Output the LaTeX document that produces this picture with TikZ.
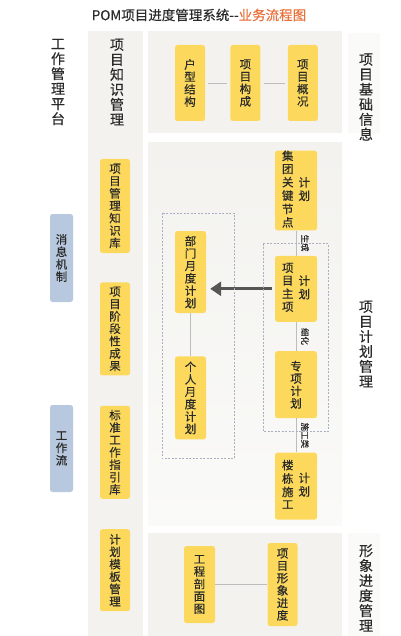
\documentclass[tikz,border=0pt]{standalone}
\usepackage{fontspec}
\setmainfont{Noto Sans CJK SC}[FakeBold=0.35]
\usepackage{tikz}
\usetikzlibrary{positioning,arrows.meta}

\definecolor{panelbg}{HTML}{F3F2EF}
\definecolor{panellight}{HTML}{FAFAF8}
\definecolor{boxyellow}{HTML}{FCD95C}
\definecolor{boxblue}{HTML}{B8C9DF}
\definecolor{textdark}{HTML}{2A2A2A}
\definecolor{titleorange}{HTML}{E8703A}
\definecolor{linegray}{HTML}{BDBDBD}
\definecolor{dashgray}{HTML}{A9B1C0}
\definecolor{arrowgray}{HTML}{565656}

\newcommand{\vcol}[1]{\begin{tabular}[c]{@{}c@{}}#1\end{tabular}}

\tikzset{
  panel/.style={fill=panelbg, draw=none},
  ybox/.style={rectangle, rounded corners=2.5pt, fill=boxyellow, inner sep=0pt, minimum width=30pt, align=center, text=textdark, font=\fontsize{11.5}{12.4}\selectfont},
  bbox/.style={rectangle, rounded corners=2.5pt, fill=boxblue, inner sep=0pt, minimum width=23pt, align=center, text=textdark, font=\fontsize{11.5}{12.4}\selectfont},
  colhead/.style={align=center, text=textdark, inner sep=0pt, font=\fontsize{14}{15}\selectfont},
  link/.style={draw=linegray, line width=0.8pt},
  tag/.style={rotate=-90, inner sep=0pt, text=textdark, font=\fontsize{8.5}{9}\selectfont},
  group/.style={draw=dashgray, dash pattern=on 2pt off 1.5pt, line width=0.6pt}
}

\begin{document}
\begin{tikzpicture}[x=1pt, y=-1pt]
    \useasboundingbox (0,0) rectangle (400,636);

    % Panels
    \fill[panel] (88,31) rectangle (143,636);
    \fill[panel] (148,31) rectangle (342,133);
    \shade[top color=panelbg, bottom color=panellight] (148,143) rectangle (342,525);
    \fill[panel] (148,533) rectangle (342,636);
    \fill[panellight] (348,33) rectangle (380,133);
    \fill[panellight] (348,533) rectangle (380,636);

    % Title
    \node[text=textdark, font=\fontsize{13.5}{15}\selectfont] (title) at (199,15) {POM项目进度管理系统{-}{-}\textcolor{titleorange}{业务流程图}};

    % Headers
    \node[colhead] (platform) at (58,82) {工\\作\\管\\理\\平\\台};
    \node[colhead] (knowhead) at (117,82) {项\\目\\知\\识\\管\\理};
    \node[colhead] (basehead) at (366,97) {项\\目\\基\\础\\信\\息};
    \node[colhead] (planhead) at (366,344) {项\\目\\计\\划\\管\\理};
    \node[colhead] (imagehead) at (366,588) {形\\象\\进\\度\\管\\理};

    % Work platform
    \node[bbox, minimum height=88pt] (msg) at (61.5,258) {消\\息\\机\\制};
    \node[bbox, minimum height=87pt] (flow) at (61.5,448.5) {工\\作\\流};

    % Knowledge
    \node[ybox, minimum height=94pt] (kb) at (115,206) {项\\目\\管\\理\\知\\识\\库};
    \node[ybox, minimum height=93pt, below=29pt of kb] (stage) {项\\目\\阶\\段\\性\\成\\果};
    \node[ybox, minimum height=93pt, below=30pt of stage] (guide) {标\\准\\工\\作\\指\\引\\库};
    \node[ybox, minimum height=82pt, below=30pt of guide] (tmpl) {计\\划\\模\\板\\管\\理};

    % Basic info
    \node[ybox, minimum height=76pt] (huxing) at (190,83) {户\\型\\结\\构};
    \node[ybox, minimum height=76pt, right=25pt of huxing] (goucheng) {项\\目\\构\\成};
    \node[ybox, minimum height=76pt, right=27pt of goucheng] (gaikuang) {项\\目\\概\\况};
    \draw[link, shorten <=3pt, shorten >=3pt] (huxing) -- (goucheng);
    \draw[link, shorten <=3pt, shorten >=3pt] (goucheng) -- (gaikuang);

    % Plan chain
    \node[ybox, minimum width=42pt, minimum height=77pt] (jituan) at (296,190.5) {\vcol{集\\团\\关\\键\\节\\点}\hspace{5pt}\vcol{计\\划}};
    \node[ybox, minimum width=42pt, minimum height=66pt, below=25pt of jituan] (zhuxiang) {\vcol{项\\目\\主\\项}\hspace{5pt}\vcol{计\\划}};
    \node[ybox, minimum width=42pt, minimum height=67pt, below=29pt of zhuxiang] (zhuanxiang) {专\\项\\计\\划};
    \node[ybox, minimum width=42pt, minimum height=67pt, below=34pt of zhuanxiang] (loudong) {\vcol{楼\\栋\\施\\工}\hspace{5pt}\vcol{计\\划}};
    \draw[link] (jituan) -- node[xshift=9pt, tag] {生成} (zhuxiang);
    \draw[link] (zhuxiang) -- node[xshift=9pt, tag] {细化} (zhuanxiang);
    \draw[link] (zhuanxiang) -- node[xshift=9pt, tag] {施工类} (loudong);

    % Monthly plans
    \node[ybox, minimum width=31pt, minimum height=82pt] (bumen) at (190.5,272) {部\\门\\月\\度\\计\\划};
    \node[ybox, minimum width=31pt, minimum height=83pt, below=43pt of bumen] (geren) {个\\人\\月\\度\\计\\划};
    \draw[link] (bumen) -- (geren);
    \draw[arrowgray, line width=3pt, shorten <=3pt, shorten >=4pt, -{Triangle[length=11pt,width=14pt]}] (zhuxiang.west) -- (zhuxiang.west -| bumen.east);

    % Groups
    \draw[group] ([shift={(-13,-18)}]bumen.north west) rectangle ([shift={(28,19)}]geren.south east);
    \draw[group] ([shift={(-12,-12)}]zhuxiang.north west) rectangle ([shift={(11,13)}]zhuanxiang.south east);

    % Image progress
    \node[ybox, minimum width=31pt, minimum height=77pt] (poumian) at (199.5,584.5) {工\\程\\剖\\面\\图};
    \node[ybox, minimum height=83pt] (xingxiang) at (282.5,584.5) {项\\目\\形\\象\\进\\度};
    \draw[link] (poumian) -- (xingxiang);

\end{tikzpicture}
\end{document}
